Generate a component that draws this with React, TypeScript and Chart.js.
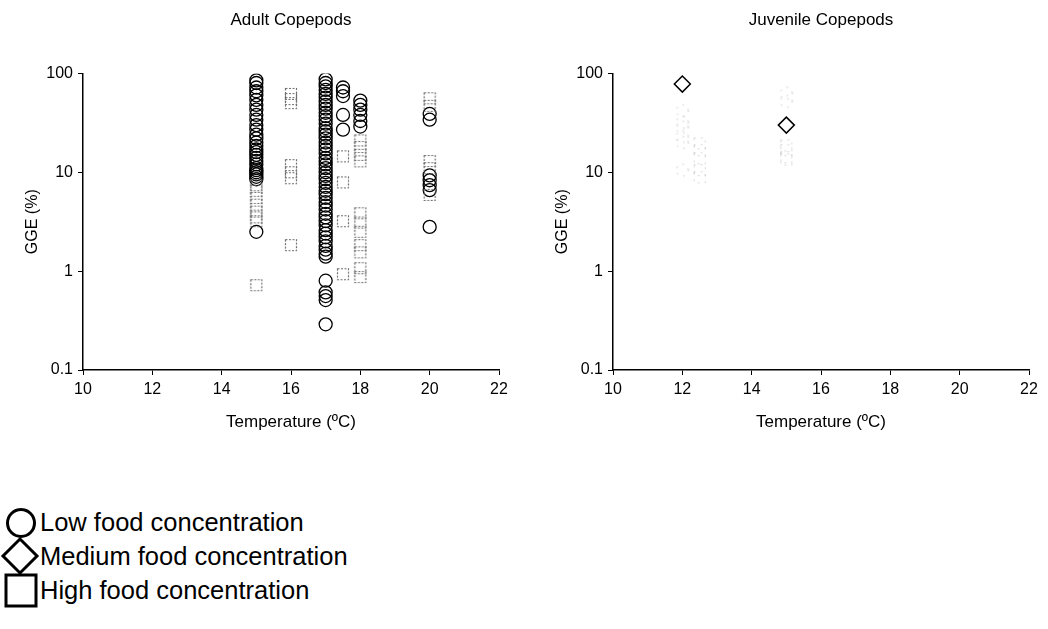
import React, { useEffect, useRef } from "react";
import { Chart, registerables } from "chart.js";

Chart.register(...registerables);

// ---- Data -------------------------------------------------------------
// Adult copepods, low food concentration (GGE %, by temperature column)
const adultLow15 = [85, 80, 72, 66, 60, 54, 48, 43, 38, 34, 30, 27, 24, 22, 20, 18.5, 17, 16, 15, 14, 13, 12, 11, 10.5, 10, 9.5, 9, 8.5, 2.5];
const adultLow17 = [87, 80, 74, 68, 62, 57, 52, 48, 44, 40, 37, 34, 31, 28, 26, 24, 22, 20, 18.5, 17, 15.5, 14, 13, 12, 11, 10, 9.2, 8.5, 7.8, 7.1, 6.5, 6, 5.5, 5, 4.6, 4.2, 3.8, 3.5, 3.2, 2.9, 2.6, 2.4, 2.2, 2, 1.8, 1.65, 1.5, 1.4, 0.8, 0.61, 0.56, 0.51, 0.29];
const adultLow17_5 = [72, 66, 59, 38, 27];
const adultLow18 = [53, 48, 43, 38, 33, 29];
const adultLow20 = [39, 34, 9.3, 8.3, 7.4, 6.6, 2.8];

// Adult copepods, high food concentration
const adultHigh15 = [7.4, 6.5, 5.5, 4.7, 4.0, 3.5, 3.2, 0.72];
const adultHigh16 = [62, 55, 50, 11.8, 10, 8.7, 1.83];
const adultHigh17_5 = [14.5, 7.9, 3.2, 0.93];
const adultHigh18 = [21, 18, 15, 12.9, 3.85, 3.1, 2.5, 1.83, 1.55, 1.07, 0.87];
const adultHigh20 = [56, 47, 13, 11, 5.9];

// Juvenile copepods
const juvMediumTemps = [12, 15];
const juvMediumGGE = [78, 30];
const juvLow12 = [42, 32, 28.5, 23, 20, 10.5];
const juvLow15 = [63, 52];
const juvHigh12_5 = [19.6, 16.7, 13.8, 10.5, 8.9];
const juvHigh15 = [18.7, 16.7, 14.2, 13.5];

// Axis ticks
const xMin = 10;
const xMax = 22;
const xStep = 2;
const yTickValues = [0.1, 1, 10, 100];
const yTickLabels = ["0.1", "1", "10", "100"];

const FONT = "'Liberation Sans', Arial, Helvetica, sans-serif";

const column = (t: number, values: number[]) => values.map((v) => ({ x: t, y: v }));

function dottedSquare(side: number, color: string, dash: number[], lw: number) {
  const c = document.createElement("canvas");
  c.width = side + 2;
  c.height = side + 2;
  const g = c.getContext("2d")!;
  g.strokeStyle = color;
  g.lineWidth = lw;
  g.setLineDash(dash);
  g.strokeRect(1.5, 1.5, side - 1, side - 1);
  return c;
}

function dottedRing(r: number, color: string, dash: number[], lw: number) {
  const s = Math.ceil(r * 2 + 4);
  const c = document.createElement("canvas");
  c.width = s;
  c.height = s;
  const g = c.getContext("2d")!;
  g.strokeStyle = color;
  g.lineWidth = lw;
  g.setLineDash(dash);
  g.beginPath();
  g.arc(s / 2, s / 2, r, 0, Math.PI * 2);
  g.stroke();
  return c;
}

function panelOptions(title: string): any {
  return {
    responsive: false,
    animation: false,
    events: [],
    layout: { padding: { top: 0, left: 0, right: 19, bottom: 0 } },
    plugins: {
      legend: { display: false },
      tooltip: { enabled: false },
      title: {
        display: true,
        fullSize: false,
        text: title,
        color: "#000",
        font: { family: FONT, size: 17, weight: "normal" },
        padding: { top: 10, bottom: 43 },
      },
    },
    scales: {
      x: {
        type: "linear",
        min: xMin,
        max: xMax,
        ticks: { stepSize: xStep, color: "#000", font: { family: FONT, size: 16 }, padding: 5 },
        grid: { drawOnChartArea: false, drawTicks: true, tickLength: 5, color: "#000" },
        border: { display: true, color: "#000", width: 1.5 },
        title: {
          display: true,
          text: "Temperature (ºC)",
          color: "#000",
          font: { family: FONT, size: 17 },
          padding: { top: 17, bottom: 17 },
        },
        afterFit: (s: any) => {
          s.height = 80;
        },
      },
      y: {
        type: "logarithmic",
        min: 0.1,
        max: 100,
        afterBuildTicks: (s: any) => {
          s.ticks = yTickValues.map((value) => ({ value }));
        },
        ticks: {
          color: "#000",
          font: { family: FONT, size: 16 },
          padding: 5,
          callback: (_v: any, i: number) => yTickLabels[i],
        },
        grid: { drawOnChartArea: false, drawTicks: true, tickLength: 5, color: "#000" },
        border: { display: true, color: "#000", width: 1.5 },
        title: {
          display: true,
          text: "GGE (%)",
          color: "#000",
          font: { family: FONT, size: 16 },
          padding: { top: 23, bottom: 23 },
        },
        afterFit: (s: any) => {
          s.width = 83;
        },
      },
    },
  };
}

function Panel({ title, build, left }: { title: string; build: () => any[]; left: number }) {
  const ref = useRef<HTMLCanvasElement | null>(null);
  useEffect(() => {
    if (!ref.current) return;
    const chart = new Chart(ref.current, {
      type: "scatter",
      data: { datasets: build() },
      options: panelOptions(title),
    });
    return () => chart.destroy();
  }, []);
  return (
    <canvas
      ref={ref}
      width={518}
      height={450}
      style={{ position: "absolute", left, top: 0, width: 518, height: 450 }}
    />
  );
}

const lowStyle = {
  pointStyle: "circle",
  pointRadius: 6.5,
  borderColor: "#000",
  backgroundColor: "rgba(0,0,0,0)",
  borderWidth: 1.3,
};

function adultDatasets() {
  const sq = dottedSquare(12, "#6e6e6e", [2, 1.5], 1.2);
  const high = { pointStyle: sq, pointRadius: 6, borderColor: "#777", backgroundColor: "rgba(0,0,0,0)" };
  return [
    {
      label: "High food concentration",
      data: [
        ...column(15, adultHigh15),
        ...column(16, adultHigh16),
        ...column(17.5, adultHigh17_5),
        ...column(18, adultHigh18),
        ...column(20, adultHigh20),
      ],
      ...high,
    },
    {
      label: "Low food concentration",
      data: [
        ...column(15, adultLow15),
        ...column(17, adultLow17),
        ...column(17.5, adultLow17_5),
        ...column(18, adultLow18),
        ...column(20, adultLow20),
      ],
      ...lowStyle,
    },
  ];
}

function juvenileDatasets() {
  const faintRing = dottedRing(6, "#a8a8a8", [1, 6], 1);
  const faintSq = dottedSquare(12, "#b4b4b4", [1, 6], 1);
  return [
    {
      label: "Low food concentration",
      data: [...column(12, juvLow12), ...column(15, juvLow15)],
      pointStyle: faintRing,
      pointRadius: 6,
    },
    {
      label: "High food concentration",
      data: [...column(12.5, juvHigh12_5), ...column(15, juvHigh15)],
      pointStyle: faintSq,
      pointRadius: 6,
    },
    {
      label: "Medium food concentration",
      data: juvMediumTemps.map((t, i) => ({ x: t, y: juvMediumGGE[i] })),
      pointStyle: "rectRot",
      pointRadius: 8,
      borderColor: "#000",
      backgroundColor: "rgba(0,0,0,0)",
      borderWidth: 1.5,
    },
  ];
}

const legendText: React.CSSProperties = {
  position: "absolute",
  left: 40,
  fontFamily: FONT,
  fontSize: 25.5,
  lineHeight: "34px",
  color: "#000",
  whiteSpace: "nowrap",
};

export default function App() {
  return (
    <div
      style={{
        position: "absolute",
        left: 0,
        top: 0,
        width: 1048,
        height: 629,
        background: "#fff",
        overflow: "hidden",
      }}
    >
      <Panel title="Adult Copepods" build={adultDatasets} left={0} />
      <Panel title="Juvenile Copepods" build={juvenileDatasets} left={530} />

      <svg width={44} height={110} style={{ position: "absolute", left: 0, top: 504 }}>
        <circle cx={21} cy={19} r={13.5} fill="none" stroke="#000" strokeWidth={3} />
        <polygon points="20,35 37,52 20,69 3,52" fill="none" stroke="#000" strokeWidth={3} />
        <rect x={6} y={71} width={30} height={31} fill="none" stroke="#000" strokeWidth={3} />
      </svg>
      <div style={{ ...legendText, top: 505 }}>Low food concentration</div>
      <div style={{ ...legendText, top: 539 }}>Medium food concentration</div>
      <div style={{ ...legendText, top: 573 }}>High food concentration</div>
    </div>
  );
}
